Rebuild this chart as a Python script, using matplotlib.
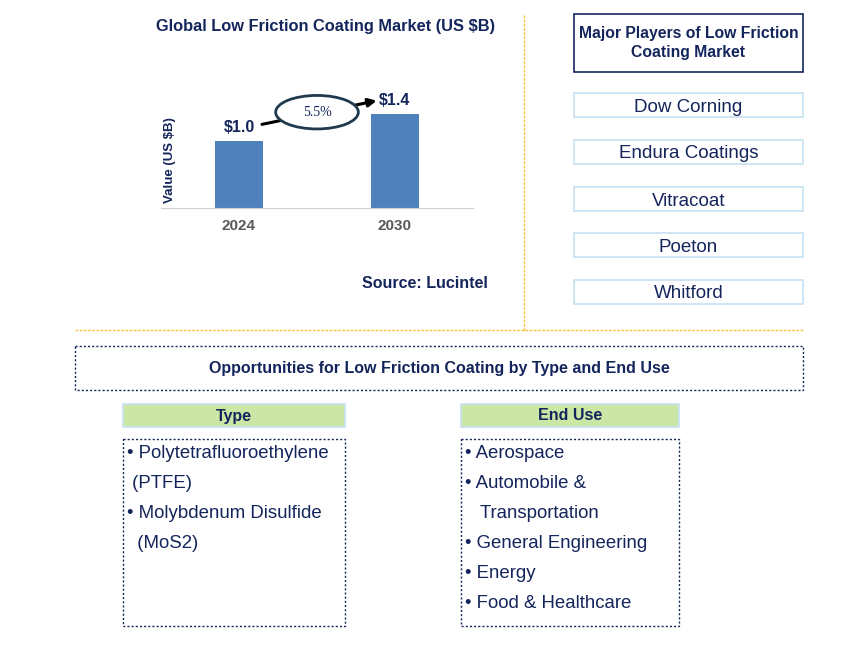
import matplotlib.pyplot as plt
from matplotlib.patches import Rectangle, Ellipse

plt.rcParams['font.family'] = ['Liberation Sans', 'DejaVu Sans']

years = ['2024', '2030']
values = [1.0, 1.4]
value_labels = ['$1.0', '$1.4']
cagr = '5.5%'
players = ['Dow Corning', 'Endura Coatings', 'Vitracoat', 'Poeton', 'Whitford']
type_lines = ['• Polytetrafluoroethylene', ' (PTFE)', '• Molybdenum Disulfide', '  (MoS2)']
end_use_lines = ['• Aerospace', '• Automobile &', '   Transportation', '• General Engineering',
                 '• Energy', '• Food & Healthcare']

navy = '#14255c'
bar_col = '#4f81bd'
gold = '#f5c342'
light_blue = '#c6e0f2'
green = '#cce6a6'

W, H = 868, 647
fig = plt.figure(figsize=(W / 100, H / 100), dpi=100)

# overlay axes in pixel coords for boxes and text
ov = fig.add_axes([0, 0, 1, 1])
ov.set_xlim(0, W)
ov.set_ylim(H, 0)
ov.axis('off')


def fx(px):
    return px / W


def fy(py):
    return 1 - py / H


# bar chart
bx0, bx1, by0, by1 = 161, 473, 60, 208
bax = fig.add_axes([fx(bx0), fy(by1), fx(bx1) - fx(bx0), fy(by0) - fy(by1)])
xs = list(range(len(years)))
bax.bar(xs, values, width=0.31, color=bar_col)
bax.set_xlim(-0.5, 1.5)
bax.set_ylim(0, 148 / 67)
bax.set_xticks(xs)
bax.set_xticklabels(years, fontsize=11, fontweight='bold', color='#595959')
bax.tick_params(axis='x', length=0, pad=8)
bax.set_yticks([])
for s in ['top', 'right', 'left']:
    bax.spines[s].set_visible(False)
bax.spines['bottom'].set_color('#d0d0d0')
bax.patch.set_alpha(0)
for i, (v, lab) in enumerate(zip(values, value_labels)):
    bax.text(i, v + 0.2, lab, ha='center', va='center',
             fontsize=11.5, fontweight='bold', color=navy)

# growth arrow and CAGR ellipse
bax.annotate('', xy=(0.9, 1.61), xytext=(0.13, 1.24),
             arrowprops=dict(arrowstyle='-|>', color='black', lw=2.2, mutation_scale=12),
             annotation_clip=False)
bax.add_patch(Ellipse((0.5, 1.43), 0.53, 0.5, facecolor='white', edgecolor='#1f3a4d',
                      lw=2, zorder=5, clip_on=False))
bax.text(0.5, 1.43, cagr, ha='center', va='center', fontsize=10, color=navy,
         family=['Liberation Serif', 'DejaVu Serif'], zorder=6)

ov.text(326, 26, 'Global Low Friction Coating Market (US $B)', ha='center', va='center',
        fontsize=11.8, fontweight='bold', color=navy)
ov.text(170, 160, 'Value (US $B)', ha='center', va='center', rotation=90,
        fontsize=9.5, fontweight='bold', color=navy)
ov.text(425, 283, 'Source: Lucintel', ha='center', va='center',
        fontsize=11.5, fontweight='bold', color=navy)

# separators
ov.plot([524, 524], [15, 330], color=gold, lw=1, ls=(0, (2, 1)))
ov.plot([75, 803], [330, 330], color=gold, lw=1, ls=(0, (2, 1)))

# players panel
ov.add_patch(Rectangle((574, 14), 229, 58, fill=False, edgecolor=navy, lw=1.2))
ov.text(688.5, 43, 'Major Players of Low Friction\nCoating Market', ha='center', va='center',
        fontsize=11.3, fontweight='bold', color=navy, linespacing=1.4)
player_y = [105, 152, 199, 245, 292]
for name, cy in zip(players, player_y):
    ov.add_patch(Rectangle((574, cy - 12), 229, 24, fill=False, edgecolor=light_blue, lw=1.2))
    ov.text(688.5, cy + 2, name, ha='center', va='center', fontsize=13.5, color=navy)

# opportunities
ov.add_patch(Rectangle((75, 346), 728, 44, fill=False, edgecolor=navy, lw=1, ls=(0, (1.5, 1.5))))
ov.text(439, 368, 'Opportunities for Low Friction Coating by Type and End Use', ha='center',
        va='center', fontsize=11.5, fontweight='bold', color=navy)

for x0, w, head, lines in [(123, 222, 'Type', type_lines), (461, 218, 'End Use', end_use_lines)]:
    ov.add_patch(Rectangle((x0, 404), w, 23, facecolor=green, edgecolor=light_blue, lw=1.2))
    ov.text(x0 + w / 2, 416, head, ha='center', va='center', fontsize=11.5,
            fontweight='bold', color=navy)
    ov.add_patch(Rectangle((x0, 439), w, 187, fill=False, edgecolor=navy, lw=1,
                           ls=(0, (1.5, 1.5))))
    for k, line in enumerate(lines):
        ov.text(x0 + 4, 454 + 30 * k, line, ha='left', va='center', fontsize=13.4, color=navy)

fig.savefig('out.png', dpi=100)
